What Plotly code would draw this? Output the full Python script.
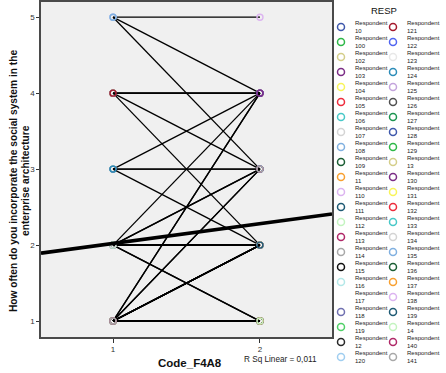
import numpy as np
import plotly.graph_objects as go

# ---------------- data ----------------
respondents = ["10", "100", "102", "103", "104", "105", "106", "107", "108", "109",
               "11", "110", "111", "112", "113", "114", "115", "116", "117", "118",
               "119", "12", "120", "121", "122", "123", "124", "125", "126", "127",
               "128", "129", "13", "130", "131", "132", "133", "134", "135", "136",
               "137", "138", "139", "14", "140", "141"]
# value at Code_F4A8 = 1 and at Code_F4A8 = 2 for each respondent
value_at_1 = [1, 1, 1, 2, 4, 1, 3, 1, 2, 4,
              1, 5, 2, 3, 4, 1, 2, 4, 1, 3,
              1, 1, 5, 4, 2, 2, 3, 1, 2, 1,
              2, 1, 2, 1, 2, 1, 2, 2, 5, 1,
              1, 1, 1, 1, 1, 1]
value_at_2 = [1, 1, 1, 2, 4, 1, 3, 4, 2, 2,
              1, 5, 1, 4, 4, 1, 2, 3, 1, 3,
              2, 1, 4, 4, 4, 2, 2, 2, 1, 1,
              3, 1, 2, 4, 2, 1, 3, 2, 3, 2,
              2, 2, 2, 1, 3, 3]
code_levels = [1, 2]
y_ticks = [1, 2, 3, 4, 5]
palette = ["#3e58ac", "#2eb848", "#d4ce8a", "#7b2d86", "#f8f45a", "#ed2c3c",
           "#48c8c8", "#d4d4d4", "#80b0e0", "#1b5e34", "#f8a030", "#dcb4f0",
           "#1e5a74", "#c4f4c0", "#b02868", "#a8a8a8", "#101010", "#b4e8e8",
           "#ffffff", "#7070b0", "#50d068", "#282828", "#a0cef0", "#a4182c",
           "#5064f0", "#e8e8e8", "#2c8cb8", "#c4a4dc", "#505050", "#1c9450"]
y_title_lines = ["How often do you incorporate the social system in the",
                 "enterprise architecture"]
x_title = "Code_F4A8"
r_sq_label = "R Sq Linear = 0,011"

# ---------------- layout constants ----------------
W, H = 446, 373
L = 41
plot_right, plot_top, plot_bottom = 332, 2, 337
paper_w = W - L
FONT = "Liberation Sans, Arial, sans-serif"
x_range = [0.51, 2.49]
y_range = [0.79, 5.2]

fig = go.Figure()

# respondent lines + markers
for i, name in enumerate(respondents):
    col = palette[i % len(palette)]
    fig.add_trace(go.Scatter(
        x=code_levels, y=[value_at_1[i], value_at_2[i]],
        mode="lines+markers", name="Respondent " + name,
        line=dict(color="#000000", width=1.3),
        marker=dict(symbol="circle-open", size=6, color=col, line=dict(width=1.4, color=col)),
        showlegend=False, hoverinfo="skip"))

# linear fit over all points
xs = np.concatenate([np.full(len(value_at_1), code_levels[0]), np.full(len(value_at_2), code_levels[1])])
ys = np.concatenate([value_at_1, value_at_2]).astype(float)
slope, intercept = np.polyfit(xs, ys, 1)
fx = np.array(x_range)
fig.add_trace(go.Scatter(x=fx, y=intercept + slope * fx, mode="lines",
                         line=dict(color="#000000", width=3.6),
                         showlegend=False, hoverinfo="skip"))

# ---------------- manual legend ----------------
n_rows = 23
row_px0, row_step = 27, 15.0
col_px = [341, 393]
px_per_unit = col_px[1] - col_px[0]
x2_range = [(plot_right - col_px[0]) / px_per_unit, (W - col_px[0]) / px_per_unit]
y2_range = [(H - row_px0) / row_step, (0 - row_px0) / row_step]

lx, ly, lc = [], [], []
annotations = []
for i, name in enumerate(respondents):
    c, r = divmod(i, n_rows)
    lx.append(c)
    ly.append(r)
    lc.append(palette[i % len(palette)])
    annotations.append(dict(
        x=c + 12 / px_per_unit, y=r, xref="x2", yref="y2",
        text="Respondent<br>" + name, showarrow=False, xanchor="left", yanchor="middle",
        align="left", font=dict(family=FONT, size=6, color="#222222")))
fig.add_trace(go.Scatter(
    x=lx, y=ly, mode="markers",
    marker=dict(symbol="circle-open", size=7, color=lc, line=dict(width=1.5, color=lc)),
    showlegend=False, hoverinfo="skip", cliponaxis=False))

annotations.append(dict(
    x=(384 - L) / paper_w, y=(H - 10) / H, xref="paper", yref="paper",
    text="RESP", showarrow=False, xanchor="center", yanchor="middle",
    font=dict(family=FONT, size=9.5, color="#111111")))

# axis titles (two rotated lines) and fit label
for k, line in enumerate(y_title_lines):
    annotations.append(dict(
        x=(13 + 12 * k - L) / paper_w, y=(H - 181) / H, xref="paper", yref="paper",
        text="<b>" + line + "</b>", showarrow=False, textangle=-90,
        xanchor="center", yanchor="middle",
        font=dict(family=FONT, size=10.2, color="#111111")))
annotations.append(dict(
    x=(190 - L) / paper_w, y=(H - 363) / H, xref="paper", yref="paper",
    text="<b>" + x_title + "</b>", showarrow=False, xanchor="center", yanchor="middle",
    font=dict(family=FONT, size=11.5, color="#111111")))
annotations.append(dict(
    x=(280 - L) / paper_w, y=(H - 359) / H, xref="paper", yref="paper",
    text=r_sq_label, showarrow=False, xanchor="center", yanchor="middle",
    font=dict(family=FONT, size=8.2, color="#222222")))

fig.update_layout(
    width=W, height=H,
    margin=dict(l=L, r=0, t=0, b=0),
    paper_bgcolor="#ffffff", plot_bgcolor="rgba(0,0,0,0)",
    showlegend=False,
    font=dict(family=FONT, size=8, color="#333333"),
    xaxis=dict(domain=[0, (plot_right - L) / paper_w], range=x_range,
               tickvals=code_levels, ticktext=[str(v) for v in code_levels],
               showgrid=False, zeroline=False, showline=True, linecolor="#4a4a4a",
               linewidth=1.5, mirror=True, ticks="outside", ticklen=4, tickwidth=1,
               tickcolor="#333333", tickfont=dict(size=8, color="#333333")),
    yaxis=dict(domain=[(H - plot_bottom) / H, (H - plot_top) / H], range=y_range,
               tickvals=y_ticks, ticktext=[str(v) for v in y_ticks],
               showgrid=False, zeroline=False, showline=True,
               linecolor="#4a4a4a", linewidth=1.5, mirror=True, ticks="outside",
               ticklen=3, tickwidth=1, tickcolor="#333333",
               tickfont=dict(size=8, color="#333333")),
    xaxis2=dict(domain=[(plot_right - L) / paper_w, 1], range=x2_range, visible=False,
                fixedrange=True),
    yaxis2=dict(domain=[0, 1], range=y2_range, visible=False, anchor="x2",
                fixedrange=True),
    annotations=annotations,
    shapes=[dict(type="rect", xref="x domain", yref="y domain", x0=0, x1=1, y0=0, y1=1,
                 fillcolor="#f0f0f0", line=dict(width=0), layer="below")],
)
fig.data[-1].update(xaxis="x2", yaxis="y2")

fig.write_html("out.html", config={"displayModeBar": False},
               post_script="document.body.style.margin='0';document.body.style.overflow='hidden';")
